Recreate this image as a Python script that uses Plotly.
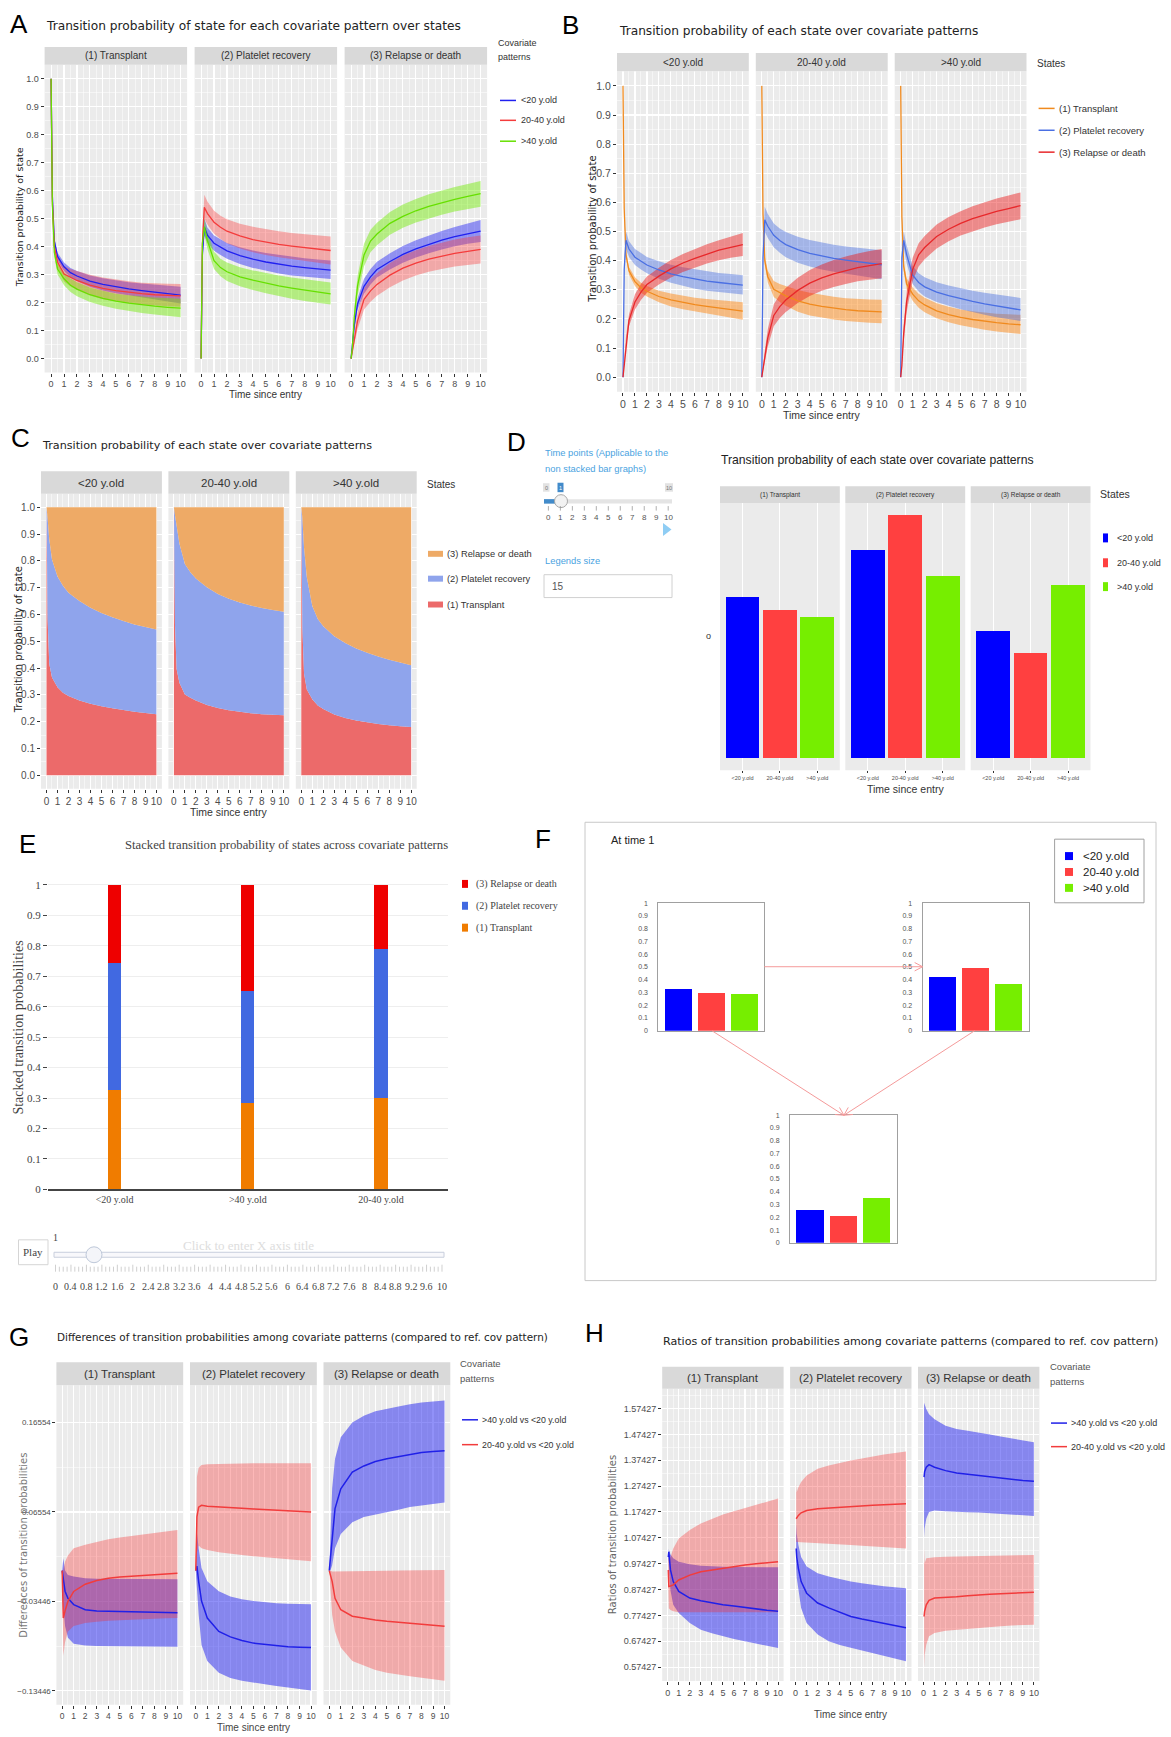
import math
import plotly.graph_objects as go

W, H = 1171, 1737

# ---------------------------------------------------------------- data
GROUPS = ['<20 y.old', '20-40 y.old', '>40 y.old']
STATES = ['(1) Transplant', '(2) Platelet recovery', '(3) Relapse or death']
TIME = [0, 0.1, 0.25, 0.5, 1, 1.5, 2, 3, 4, 5, 6, 7, 8, 9, 10]

# (1) Transplant
TRANS_Y20 = [1.0, 0.58, 0.42, 0.365, 0.328, 0.307, 0.295, 0.277, 0.265, 0.256, 0.249, 0.243, 0.237, 0.232, 0.227]
TRANS_Y20_LO = [1.0, 0.57, 0.41, 0.352, 0.313, 0.29, 0.277, 0.257, 0.243, 0.233, 0.224, 0.217, 0.21, 0.204, 0.197]
TRANS_Y20_HI = [1.0, 0.59, 0.43, 0.378, 0.343, 0.324, 0.313, 0.297, 0.287, 0.279, 0.273, 0.268, 0.264, 0.26, 0.257]
TRANS_Y2040 = [1.0, 0.56, 0.40, 0.345, 0.302, 0.289, 0.279, 0.262, 0.251, 0.243, 0.237, 0.232, 0.228, 0.226, 0.224]
TRANS_Y2040_LO = [1.0, 0.55, 0.385, 0.325, 0.275, 0.258, 0.245, 0.225, 0.212, 0.204, 0.198, 0.193, 0.189, 0.187, 0.185]
TRANS_Y2040_HI = [1.0, 0.57, 0.415, 0.365, 0.33, 0.32, 0.313, 0.299, 0.29, 0.282, 0.276, 0.271, 0.268, 0.267, 0.266]
TRANS_Y40 = [1.0, 0.55, 0.38, 0.32, 0.285, 0.262, 0.248, 0.228, 0.215, 0.205, 0.198, 0.192, 0.187, 0.183, 0.180]
TRANS_Y40_LO = [1.0, 0.54, 0.365, 0.3, 0.262, 0.238, 0.223, 0.202, 0.189, 0.178, 0.17, 0.163, 0.157, 0.152, 0.148]
TRANS_Y40_HI = [1.0, 0.56, 0.395, 0.34, 0.308, 0.286, 0.273, 0.254, 0.242, 0.232, 0.226, 0.221, 0.218, 0.216, 0.214]

# (2) Platelet recovery
PLATE_Y20 = [0.0, 0.37, 0.47, 0.44, 0.412, 0.398, 0.385, 0.368, 0.355, 0.345, 0.337, 0.330, 0.325, 0.320, 0.316]
PLATE_Y20_LO = [0.0, 0.35, 0.44, 0.413, 0.385, 0.37, 0.357, 0.338, 0.324, 0.313, 0.304, 0.297, 0.292, 0.288, 0.284]
PLATE_Y20_HI = [0.0, 0.39, 0.50, 0.467, 0.44, 0.425, 0.413, 0.398, 0.386, 0.377, 0.37, 0.364, 0.358, 0.354, 0.35]
PLATE_Y2040 = [0.0, 0.41, 0.54, 0.518, 0.487, 0.469, 0.455, 0.438, 0.425, 0.416, 0.408, 0.402, 0.396, 0.391, 0.386]
PLATE_Y2040_LO = [0.0, 0.38, 0.50, 0.478, 0.446, 0.427, 0.412, 0.393, 0.38, 0.37, 0.362, 0.355, 0.348, 0.342, 0.336]
PLATE_Y2040_HI = [0.0, 0.44, 0.585, 0.56, 0.528, 0.51, 0.498, 0.482, 0.471, 0.462, 0.455, 0.449, 0.444, 0.44, 0.436]
PLATE_Y40 = [0.0, 0.41, 0.47, 0.42, 0.35, 0.325, 0.31, 0.292, 0.28, 0.269, 0.26, 0.252, 0.245, 0.238, 0.231]
PLATE_Y40_LO = [0.0, 0.39, 0.445, 0.39, 0.32, 0.294, 0.277, 0.258, 0.245, 0.233, 0.223, 0.214, 0.206, 0.199, 0.193]
PLATE_Y40_HI = [0.0, 0.43, 0.50, 0.452, 0.382, 0.357, 0.343, 0.326, 0.315, 0.305, 0.297, 0.29, 0.284, 0.278, 0.272]

# (3) Relapse or death
RELAP_Y20 = [0.0, 0.04, 0.12, 0.195, 0.258, 0.292, 0.318, 0.347, 0.372, 0.392, 0.408, 0.423, 0.436, 0.446, 0.455]
RELAP_Y20_LO = [0.0, 0.03, 0.10, 0.175, 0.232, 0.265, 0.29, 0.318, 0.342, 0.361, 0.376, 0.39, 0.401, 0.41, 0.416]
RELAP_Y20_HI = [0.0, 0.05, 0.14, 0.215, 0.285, 0.32, 0.346, 0.376, 0.402, 0.423, 0.44, 0.456, 0.47, 0.483, 0.495]
RELAP_Y2040 = [0.0, 0.03, 0.07, 0.135, 0.212, 0.242, 0.265, 0.298, 0.323, 0.341, 0.355, 0.366, 0.376, 0.383, 0.390]
RELAP_Y2040_LO = [0.0, 0.02, 0.05, 0.105, 0.175, 0.203, 0.224, 0.255, 0.279, 0.297, 0.31, 0.32, 0.329, 0.335, 0.34]
RELAP_Y2040_HI = [0.0, 0.04, 0.09, 0.165, 0.25, 0.283, 0.306, 0.341, 0.368, 0.387, 0.402, 0.414, 0.425, 0.433, 0.44]
RELAP_Y40 = [0.0, 0.04, 0.15, 0.26, 0.37, 0.42, 0.445, 0.483, 0.508, 0.528, 0.544, 0.557, 0.569, 0.579, 0.589]
RELAP_Y40_LO = [0.0, 0.03, 0.12, 0.225, 0.33, 0.38, 0.405, 0.442, 0.467, 0.486, 0.501, 0.514, 0.525, 0.534, 0.542]
RELAP_Y40_HI = [0.0, 0.05, 0.18, 0.295, 0.41, 0.46, 0.485, 0.524, 0.55, 0.57, 0.587, 0.601, 0.613, 0.624, 0.634]

# probabilities at time 1 (bar charts), order follows GROUPS
AT1_TRANSPLANT = [0.325, 0.299, 0.285]
AT1_PLATELET = [0.419, 0.489, 0.367]
AT1_RELAPSE = [0.256, 0.212, 0.348]
STACK_ORDER = ['<20 y.old', '>40 y.old', '20-40 y.old']

# differences vs the reference pattern (<20 y.old)
DIFF_TIME = [0, 0.1, 0.25, 0.5, 1, 2, 3, 4, 5, 6, 7, 8, 9, 10]
DIFF_T_40 = [0, -0.012, -0.023, -0.031, -0.038, -0.0437, -0.045, -0.0453, -0.0456, -0.046, -0.0463, -0.0466, -0.0468, -0.047]
DIFF_T_40_LO = [0, -0.04, -0.062, -0.075, -0.0818, -0.0837, -0.0843, -0.0845, -0.0847, -0.0848, -0.0849, -0.085, -0.085, -0.085]
DIFF_T_40_HI = [0, 0.0137, 0.0, -0.005, -0.0067, -0.0085, -0.009, -0.0092, -0.0094, -0.0095, -0.0095, -0.0096, -0.0096, -0.0096]
DIFF_T_2040 = [0, -0.053, -0.045, -0.0344, -0.0233, -0.0152, -0.011, -0.0085, -0.007, -0.0062, -0.0055, -0.0048, -0.004, -0.003]
DIFF_T_2040_LO = [0, -0.095, -0.08, -0.068, -0.062, -0.0585, -0.057, -0.056, -0.055, -0.0545, -0.054, -0.0537, -0.0533, -0.053]
DIFF_T_2040_HI = [0, 0.0, 0.01, 0.017, 0.025, 0.029, 0.032, 0.035, 0.037, 0.0385, 0.04, 0.042, 0.0438, 0.0455]
DIFF_P_40 = [0, 0.005, -0.012, -0.034, -0.053, -0.068, -0.074, -0.078, -0.081, -0.0825, -0.084, -0.085, -0.0855, -0.086]
DIFF_P_40_LO = [0, -0.02, -0.049, -0.083, -0.101, -0.114, -0.12, -0.123, -0.125, -0.127, -0.129, -0.131, -0.1325, -0.134]
DIFF_P_40_HI = [0, 0.043, 0.025, 0.003, -0.012, -0.023, -0.029, -0.032, -0.034, -0.0355, -0.0365, -0.037, -0.0373, -0.0375]
DIFF_P_2040 = [0, 0.06, 0.071, 0.073, 0.072, 0.071, 0.0703, 0.0697, 0.069, 0.0683, 0.0676, 0.067, 0.0662, 0.0655]
DIFF_P_2040_LO = [0, 0.02, 0.028, 0.025, 0.023, 0.0205, 0.019, 0.0175, 0.016, 0.0148, 0.0136, 0.0125, 0.0115, 0.0105]
DIFF_P_2040_HI = [0, 0.105, 0.115, 0.118, 0.119, 0.1195, 0.1197, 0.1198, 0.12, 0.12, 0.12, 0.12, 0.12, 0.12]
DIFF_R_40 = [0, 0.015, 0.04, 0.0693, 0.0915, 0.11, 0.117, 0.122, 0.125, 0.1275, 0.13, 0.132, 0.133, 0.134]
DIFF_R_40_LO = [0, 0.0, 0.006, 0.025, 0.041, 0.054, 0.06, 0.063, 0.0655, 0.068, 0.071, 0.073, 0.0745, 0.076]
DIFF_R_40_HI = [0, 0.04, 0.0915, 0.125, 0.149, 0.1655, 0.173, 0.178, 0.181, 0.1835, 0.186, 0.188, 0.189, 0.19]
DIFF_R_2040 = [0, -0.005, -0.012, -0.031, -0.0437, -0.051, -0.0535, -0.0552, -0.0567, -0.058, -0.0585, -0.06, -0.061, -0.0622]
DIFF_R_2040_LO = [0, -0.02, -0.0493, -0.068, -0.086, -0.101, -0.106, -0.111, -0.114, -0.116, -0.118, -0.12, -0.1215, -0.123]
DIFF_R_2040_HI = [0, 0.0, -0.001, -0.001, -0.001, -0.0008, -0.0006, -0.0004, -0.0002, 0.0, 0.0002, 0.0004, 0.0006, 0.0007]
DIFF_TICKS = [-0.13446, -0.03446, 0.06554, 0.16554]

# ratios vs the reference pattern (<20 y.old)
RATIO_TIME = [0.05, 0.1, 0.25, 0.5, 1, 2, 3, 4, 5, 6, 7, 8, 9, 10]
RATIO_T_40 = [1.0, 1.02, 0.95, 0.905, 0.867, 0.841, 0.831, 0.823, 0.815, 0.81, 0.804, 0.799, 0.794, 0.79]
RATIO_T_40_LO = [1.0, 0.99, 0.87, 0.815, 0.783, 0.745, 0.719, 0.705, 0.693, 0.683, 0.674, 0.665, 0.656, 0.648]
RATIO_T_40_HI = [1.0, 1.03, 1.01, 0.995, 0.982, 0.972, 0.966, 0.963, 0.962, 0.961, 0.961, 0.96, 0.96, 0.96]
RATIO_T_2040 = [0.95, 0.886, 0.888, 0.892, 0.911, 0.93, 0.943, 0.95, 0.956, 0.962, 0.969, 0.974, 0.978, 0.982]
RATIO_T_2040_LO = [0.9, 0.802, 0.795, 0.79, 0.786, 0.786, 0.786, 0.786, 0.786, 0.786, 0.786, 0.786, 0.786, 0.786]
RATIO_T_2040_HI = [1.0, 0.99, 1.0, 1.033, 1.072, 1.104, 1.13, 1.148, 1.164, 1.177, 1.19, 1.202, 1.214, 1.226]
RATIO_P_40 = [1.033, 1.0, 0.956, 0.905, 0.86, 0.822, 0.803, 0.786, 0.77, 0.76, 0.751, 0.742, 0.734, 0.726]
RATIO_P_40_LO = [0.96, 0.92, 0.866, 0.8025, 0.745, 0.7, 0.674, 0.66, 0.649, 0.637, 0.627, 0.617, 0.607, 0.597]
RATIO_P_40_HI = [1.129, 1.09, 1.046, 1.0, 0.963, 0.937, 0.925, 0.914, 0.905, 0.898, 0.892, 0.887, 0.883, 0.879]
RATIO_P_2040 = [1.148, 1.152, 1.161, 1.171, 1.18, 1.187, 1.19, 1.193, 1.196, 1.198, 1.2, 1.202, 1.204, 1.206]
RATIO_P_2040_LO = [1.059, 1.058, 1.057, 1.057, 1.056, 1.053, 1.05, 1.048, 1.046, 1.043, 1.04, 1.038, 1.035, 1.033]
RATIO_P_2040_HI = [1.283, 1.25, 1.27, 1.29, 1.315, 1.341, 1.354, 1.364, 1.373, 1.381, 1.389, 1.396, 1.402, 1.408]
RATIO_R_40 = [1.309, 1.33, 1.347, 1.357, 1.347, 1.334, 1.325, 1.319, 1.315, 1.31, 1.305, 1.3, 1.296, 1.293]
RATIO_R_40_LO = [1.074, 1.11, 1.148, 1.174, 1.18, 1.177, 1.174, 1.173, 1.172, 1.17, 1.167, 1.165, 1.162, 1.159]
RATIO_R_40_HI = [1.597, 1.59, 1.572, 1.552, 1.533, 1.508, 1.495, 1.488, 1.482, 1.474, 1.466, 1.458, 1.451, 1.444]
RATIO_R_2040 = [0.77, 0.79, 0.815, 0.832, 0.841, 0.843, 0.846, 0.85, 0.854, 0.856, 0.858, 0.86, 0.862, 0.864]
RATIO_R_2040_LO = [0.574, 0.62, 0.661, 0.693, 0.706, 0.715, 0.719, 0.722, 0.726, 0.729, 0.732, 0.735, 0.737, 0.738]
RATIO_R_2040_HI = [1.033, 0.976, 0.995, 0.997, 0.999, 1.001, 1.002, 1.003, 1.004, 1.005, 1.006, 1.007, 1.008, 1.008]

COMPARISONS = ['>40 y.old vs <20 y.old', '20-40 y.old vs <20 y.old']

# lookup tables built from the arrays above: [state][group] -> (mean, lo, hi)
PROB = [
    [(TRANS_Y20, TRANS_Y20_LO, TRANS_Y20_HI), (TRANS_Y2040, TRANS_Y2040_LO, TRANS_Y2040_HI), (TRANS_Y40, TRANS_Y40_LO, TRANS_Y40_HI)],
    [(PLATE_Y20, PLATE_Y20_LO, PLATE_Y20_HI), (PLATE_Y2040, PLATE_Y2040_LO, PLATE_Y2040_HI), (PLATE_Y40, PLATE_Y40_LO, PLATE_Y40_HI)],
    [(RELAP_Y20, RELAP_Y20_LO, RELAP_Y20_HI), (RELAP_Y2040, RELAP_Y2040_LO, RELAP_Y2040_HI), (RELAP_Y40, RELAP_Y40_LO, RELAP_Y40_HI)],
]
AT1 = [AT1_TRANSPLANT, AT1_PLATELET, AT1_RELAPSE]
DIFFS = [
    [(DIFF_T_40, DIFF_T_40_LO, DIFF_T_40_HI), (DIFF_T_2040, DIFF_T_2040_LO, DIFF_T_2040_HI)],
    [(DIFF_P_40, DIFF_P_40_LO, DIFF_P_40_HI), (DIFF_P_2040, DIFF_P_2040_LO, DIFF_P_2040_HI)],
    [(DIFF_R_40, DIFF_R_40_LO, DIFF_R_40_HI), (DIFF_R_2040, DIFF_R_2040_LO, DIFF_R_2040_HI)],
]
RATIOS = [
    [(RATIO_T_40, RATIO_T_40_LO, RATIO_T_40_HI), (RATIO_T_2040, RATIO_T_2040_LO, RATIO_T_2040_HI)],
    [(RATIO_P_40, RATIO_P_40_LO, RATIO_P_40_HI), (RATIO_P_2040, RATIO_P_2040_LO, RATIO_P_2040_HI)],
    [(RATIO_R_40, RATIO_R_40_LO, RATIO_R_40_HI), (RATIO_R_2040, RATIO_R_2040_LO, RATIO_R_2040_HI)],
]

# ---------------------------------------------------------------- styling
SANS = 'Liberation Sans, Arial, sans-serif'
VERD = 'DejaVu Sans, Verdana, sans-serif'
SERIF = 'Liberation Serif, Times New Roman, serif'
GG_BG = '#EBEBEB'
STRIP_BG = '#D9D9D9'
TICK_C = '#4D4D4D'

GROUP_LINE = ['#2020F0', '#F43C3C', '#66E000']
GROUP_FILL = ['rgba(20,20,245,0.42)', 'rgba(250,60,60,0.38)', 'rgba(110,235,0,0.45)']
STATE_LINE_B = ['#F08A1E', '#4A6FE3', '#E8282B']
STATE_FILL_B = ['rgba(255,127,0,0.45)', 'rgba(65,105,225,0.42)', 'rgba(235,20,20,0.45)']
STATE_AREA_C = ['#EC6A6A', '#8FA4EC', '#EEAA66']
BAR_COLORS = ['#0000FF', '#FF4040', '#76EE00']
STACK_COLORS = ['#F07C00', '#4169E1', '#EE0000']
CMP_LINE = ['#2020E8', '#F23C3C']
CMP_FILL = ['rgba(10,10,240,0.45)', 'rgba(250,40,40,0.33)']

fig = go.Figure()
axes_layout = {}
shapes = []
annots = []
_count = [0]


def fx(p):
    return p / W


def fy(p):
    return 1 - p / H


def add_axes(x0, x1, y_top, y_bot, xa, ya):
    _count[0] += 1
    k = _count[0]
    s = '' if k == 1 else str(k)
    axes_layout['xaxis' + s] = dict(domain=[fx(x0), fx(x1)], anchor='y' + s, fixedrange=True, **xa)
    axes_layout['yaxis' + s] = dict(domain=[fy(y_bot), fy(y_top)], anchor='x' + s, fixedrange=True, **ya)
    return 'x' + s, 'y' + s


def text(x, y, s, size, color='#333333', family=SANS, xanchor='left', yanchor='middle', angle=0):
    annots.append(dict(x=fx(x), y=fy(y), xref='paper', yref='paper', text=s, showarrow=False,
                       font=dict(size=size, color=color, family=family), xanchor=xanchor,
                       yanchor=yanchor, textangle=angle, borderpad=0))


def rect(x0, y0, x1, y1, fill=None, line=None, lw=1, layer='above'):
    shapes.append(dict(type='rect', xref='paper', yref='paper', x0=fx(x0), x1=fx(x1), y0=fy(y1), y1=fy(y0),
                       fillcolor=fill or 'rgba(0,0,0,0)',
                       line=dict(color=line or 'rgba(0,0,0,0)', width=lw if line else 0), layer=layer))


def seg(x0, y0, x1, y1, color, lw=1):
    shapes.append(dict(type='line', xref='paper', yref='paper', x0=fx(x0), y0=fy(y0), x1=fx(x1), y1=fy(y1),
                       line=dict(color=color, width=lw)))


def path(d_pts, fill, line=None, lw=1, closed=True):
    d = 'M ' + ' L '.join(f'{fx(x):.5f},{fy(y):.5f}' for x, y in d_pts) + (' Z' if closed else '')
    shapes.append(dict(type='path', xref='paper', yref='paper', path=d, fillcolor=fill,
                       line=dict(color=line or 'rgba(0,0,0,0)', width=lw if line else 0)))


def circle(cx, cy, r, fill, line, lw=1):
    shapes.append(dict(type='circle', xref='paper', yref='paper', x0=fx(cx - r), x1=fx(cx + r),
                       y0=fy(cy + r), y1=fy(cy - r), fillcolor=fill, line=dict(color=line, width=lw)))


def arrow(x0, y0, x1, y1, color, head=9, ang=28):
    seg(x0, y0, x1, y1, color)
    th = math.atan2(y1 - y0, x1 - x0)
    for sgn in (-1, 1):
        a = th + math.pi + sgn * math.radians(ang)
        seg(x1, y1, x1 + head * math.cos(a), y1 + head * math.sin(a), color)


def gg_time_axis(size, show=True):
    return dict(range=[-0.5, 10.5], tickmode='linear', tick0=0, dtick=1,
                showgrid=True, gridcolor='white', gridwidth=1.1,
                minor=dict(tick0=0, dtick=0.5, showgrid=True, gridcolor='white', gridwidth=0.5),
                ticks='outside', ticklen=3, tickwidth=1, tickcolor='#333333', zeroline=False, showline=False,
                showticklabels=show, tickfont=dict(size=size, color=TICK_C, family=SANS))


def gg_value_axis(rng, tick0, dtick, fmt, size, show=True):
    return dict(range=rng, tickmode='linear', tick0=tick0, dtick=dtick, tickformat=fmt,
                showgrid=True, gridcolor='white', gridwidth=1.1,
                minor=dict(tick0=tick0, dtick=dtick / 2, showgrid=True, gridcolor='white', gridwidth=0.5),
                ticks='outside' if show else '', ticklen=3, tickwidth=1, tickcolor='#333333',
                zeroline=False, showline=False,
                showticklabels=show, tickfont=dict(size=size, color=TICK_C, family=SANS))


def gg_panel(xr, strip, plot, label, strip_size, xa, ya):
    xid, yid = add_axes(xr[0], xr[1], plot[0], plot[1], xa, ya)
    shapes.append(dict(type='rect', xref=xid + ' domain', yref=yid + ' domain', x0=0, x1=1, y0=0, y1=1,
                       fillcolor=GG_BG, line=dict(width=0), layer='below'))
    rect(xr[0], strip[0], xr[1], strip[1], fill=STRIP_BG)
    text((xr[0] + xr[1]) / 2, (strip[0] + strip[1]) / 2, label, strip_size, color='#333333', xanchor='center')
    return xid, yid


def ribbon(xid, yid, t, lo, hi, fill):
    fig.add_trace(go.Scatter(x=list(t) + list(t)[::-1], y=list(hi) + list(lo)[::-1], fill='toself',
                             fillcolor=fill, line=dict(width=0), mode='lines', hoverinfo='skip',
                             showlegend=False, xaxis=xid, yaxis=yid))


def mean_line(xid, yid, t, m, color, lw=1.3):
    fig.add_trace(go.Scatter(x=t, y=m, mode='lines', line=dict(color=color, width=lw),
                             showlegend=False, xaxis=xid, yaxis=yid))


def letter(x, y, s):
    text(x, y, s, 26, color='#000000', family=SANS, xanchor='center')


def line_legend(x, ys, colors, labels, size, label_x, family=SANS, lw=1.5, length=16):
    for y, c, lab in zip(ys, colors, labels):
        seg(x, y, x + length, y, c, lw)
        text(label_x, y, lab, size, color='#333333', family=family)


def box_legend(x, ys, w, h, colors, labels, size, label_x, family=SANS, color='#333333'):
    for y, c, lab in zip(ys, colors, labels):
        rect(x, y - h / 2, x + w, y + h / 2, fill=c)
        text(label_x, y, lab, size, color=color, family=family)


# ---------------------------------------------------------------- A
letter(19, 20, 'A')
text(44.6, 21.7, 'Transition probability of state for each covariate pattern over states', 12.2, '#222222', VERD)
A_X = [(44.6, 187.1), (194.6, 337.1), (344.6, 487.1)]
for si in range(3):
    xid, yid = gg_panel(A_X[si], (43.3, 61), (61, 370.7), STATES[si], 10,
                        gg_time_axis(9), gg_value_axis([-0.05, 1.05], 0, 0.1, '.1f', 9, show=(si == 0)))
    for gi in range(3):
        m, lo, hi = PROB[si][gi]
        ribbon(xid, yid, TIME, lo, hi, GROUP_FILL[gi])
    for gi in range(3):
        mean_line(xid, yid, TIME, PROB[si][gi][0], GROUP_LINE[gi])
text(19.6, 215, 'Transition probability of state', 9.5, '#222222', VERD, xanchor='center', angle=-90)
text(265.9, 393, 'Time since entry', 10, '#333333', SANS, xanchor='center')
text(497, 39, 'Covariate', 9, '#333333')
text(497, 53, 'patterns', 9, '#333333')
line_legend(500, [97, 117, 138], GROUP_LINE, GROUPS, 9, 520)

# ---------------------------------------------------------------- B
letter(570, 21, 'B')
text(617.7, 26.7, 'Transition probability of each state over covariate patterns', 12.2, '#222222', VERD)
B_X = [(617, 748.8), (755.8, 887.7), (894.7, 1026.5)]
for gi in range(3):
    xid, yid = gg_panel(B_X[gi], (49.3, 67.7), (67.7, 390), GROUPS[gi], 10,
                        gg_time_axis(10.5), gg_value_axis([-0.05, 1.05], 0, 0.1, '.1f', 10.5, show=(gi == 0)))
    for si in range(3):
        m, lo, hi = PROB[si][gi]
        ribbon(xid, yid, TIME, lo, hi, STATE_FILL_B[si])
    for si in range(3):
        mean_line(xid, yid, TIME, PROB[si][gi][0], STATE_LINE_B[si])
text(593, 227, 'Transition probability of state', 10, '#222222', VERD, xanchor='center', angle=-90)
text(821.8, 413, 'Time since entry', 10.5, '#333333', SANS, xanchor='center')
text(1036, 60, 'States', 10, '#333333')
line_legend(1038.6, [105, 127, 149], STATE_LINE_B, STATES, 9.5, 1058)

# ---------------------------------------------------------------- C
letter(20, 437, 'C')
text(41, 444, 'Transition probability of each state over covariate patterns', 11.2, '#222222', VERD)
C_X = [(41, 161.9), (168.4, 289.3), (295.8, 416.7)]
for gi in range(3):
    xid, yid = gg_panel(C_X[gi], (470, 492.7), (492.7, 789.3), GROUPS[gi], 11.5,
                        gg_time_axis(10), gg_value_axis([-0.05, 1.05], 0, 0.1, '.1f', 10, show=(gi == 0)))
    for si in range(3):
        fig.add_trace(go.Scatter(x=TIME, y=PROB[si][gi][0], stackgroup='stack%d' % gi,
                                 groupnorm='fraction' if si == 0 else None, mode='none',
                                 fillcolor=STATE_AREA_C[si], showlegend=False, xaxis=xid, yaxis=yid))
text(18, 640, 'Transition probability of state', 10, '#222222', VERD, xanchor='center', angle=-90)
text(228.9, 813, 'Time since entry', 10.5, '#333333', SANS, xanchor='center')
text(426, 483, 'States', 10, '#333333')
box_legend(428, [553, 578, 604], 15, 6, STATE_AREA_C[::-1], STATES[::-1], 9.3, 446)

# ---------------------------------------------------------------- D
letter(516, 441, 'D')
BLUE_UI = '#4AA3DF'
text(544, 451, 'Time points (Applicable to the', 9.4, BLUE_UI, SANS)
text(544, 467, 'non stacked bar graphs)', 9.4, BLUE_UI, SANS)
rect(543, 482, 549.5, 490.5, fill='#E2E2E2')
text(546.2, 486.3, '0', 5.5, '#777777', SANS, xanchor='center')
rect(665, 482, 673, 490.5, fill='#E2E2E2')
text(669, 486.3, '10', 5.5, '#777777', SANS, xanchor='center')
rect(557.5, 481.5, 563.5, 491, fill='#428BCA')
text(560.5, 486.3, '1', 5.5, '#FFFFFF', SANS, xanchor='center')
rect(544, 498, 672, 502.5, fill='#E4E4E4')
rect(544, 498, 561, 502.5, fill='#428BCA')
circle(561, 500, 6.5, '#F2F2F2', '#A8A8A8')
for v in range(11):
    xv = 548.4 + v * 11.98
    seg(xv, 505, xv, 509.5, '#999999', 0.8)
    text(xv, 516, str(v), 8, '#555555', SANS, xanchor='center')
path([(663, 522), (671.5, 528.5), (663, 535)], '#8FCDF4')
text(544, 560, 'Legends size', 9.4, BLUE_UI, SANS)
rect(544, 574, 672, 597, fill='#FFFFFF', line='#D0D0D0')
text(551, 586, '15', 10, '#555555', SANS)

text(720, 459, 'Transition probability of each state over covariate patterns', 12.2, '#222222', SANS)
D_X = [(720, 839.8), (845.3, 965.2), (970.7, 1090.5)]
for si in range(3):
    xa = dict(type='category', categoryorder='array', categoryarray=GROUPS, range=[-0.6, 2.6],
              showgrid=True, gridcolor='white', gridwidth=1, ticks='outside', ticklen=2,
              tickcolor='#333333', zeroline=False, tickfont=dict(size=5.5, color=TICK_C, family=SANS))
    ya = dict(range=[-0.0245, 0.5135], showticklabels=False, showgrid=False, ticks='', zeroline=False)
    xid, yid = gg_panel(D_X[si], (485, 502), (502, 770.7), STATES[si], 6.5, xa, ya)
    fig.add_trace(go.Bar(x=GROUPS, y=AT1[si], marker=dict(color=BAR_COLORS, line=dict(width=0)), width=0.9,
                         showlegend=False, xaxis=xid, yaxis=yid))
text(708, 636, 'o', 9, '#333333', SANS, xanchor='center')
text(905.2, 790, 'Time since entry', 10.5, '#333333', SANS, xanchor='center')
text(1099, 493, 'States', 10.5, '#333333')
box_legend(1103, [537, 562, 586], 5, 9, BAR_COLORS, GROUPS, 9, 1116)

# ---------------------------------------------------------------- E
letter(27, 845, 'E')
text(286, 846, 'Stacked transition probability of states across covariate patterns', 12.7, '#444444', SERIF,
     xanchor='center')
xid, yid = add_axes(48, 447.6, 870.7, 1192.3,
                    dict(type='category', categoryorder='array', categoryarray=STACK_ORDER, range=[-0.5, 2.5],
                         showline=True, linecolor='#444444', linewidth=1.5, ticks='', showgrid=False,
                         zeroline=False, tickfont=dict(size=10, color='#444444', family=SERIF)),
                    dict(range=[0, 1.05], tickmode='linear', tick0=0, dtick=0.1, showgrid=True,
                         gridcolor='#EEEEEE', gridwidth=1, ticks='outside', ticklen=4, tickcolor='#444444',
                         zeroline=False, showline=False, tickfont=dict(size=11, color='#444444', family=SERIF)))
for si in range(3):
    fig.add_trace(go.Bar(x=GROUPS, y=AT1[si], marker=dict(color=STACK_COLORS[si], line=dict(width=0)),
                         width=0.1, showlegend=False, xaxis=xid, yaxis=yid))
text(18.5, 1030, 'Stacked transition probabilities', 14, '#444444', SERIF, xanchor='center', angle=-90)
box_legend(462, [885, 907, 929], 6, 8, STACK_COLORS[::-1], STATES[::-1], 10, 475, family=SERIF,
           color='#444444')

# animation-style time slider
rect(18.5, 1243, 48, 1268, fill='#FFFFFF', line='#D5D5D5')
text(33.2, 1255.5, 'Play', 11, '#444444', SERIF, xanchor='center')
text(52, 1241, '1', 10, '#444444', SERIF)
text(248, 1249, 'Click to enter X axis title', 13, '#DDDDDD', SERIF, xanchor='center')
rect(54, 1255.5, 444, 1260.5, fill='#F8F8FB', line='#C8CEDC')
circle(94, 1258, 8, '#F4F5F9', '#BEC8D9')
for i in range(101):
    xv = 55.5 + i * 0.1 * 38.65
    top = 1268 if i % 4 == 0 else 1270
    seg(xv, top, xv, 1275, '#BBBBBB', 0.7)
for i in range(26):
    v = round(i * 0.4, 1)
    text(55.5 + v * 38.65, 1290, f'{v:g}', 10, '#444444', SERIF, xanchor='center')

# ---------------------------------------------------------------- F
letter(543, 840, 'F')
rect(585, 823, 1156, 1284, line='#C8C8C8', lw=1)
text(610, 841, 'At time 1', 11, '#222222', SANS)
rect(1054.6, 840, 1144, 904, fill='#FFFFFF', line='#A0A0A0')
box_legend(1065, [857, 873, 889], 8, 8, BAR_COLORS, GROUPS, 11.5, 1082, color='#222222')
F_BOXES = [(658.4, 764.3, 904.3, 1032.7), (922.6, 1028.5, 904.3, 1032.7), (790, 896.6, 1117.7, 1246)]
for si in range(3):
    x0, x1, y0, y1 = F_BOXES[si]
    xid, yid = add_axes(x0, x1, y0, y1,
                        dict(type='category', categoryorder='array', categoryarray=GROUPS, range=[-0.6, 2.6],
                             showticklabels=False, showgrid=False, ticks='', showline=True, mirror=True,
                             linecolor='#A0A0A0', linewidth=1, zeroline=False),
                        dict(range=[0, 1], tickmode='linear', tick0=0, dtick=0.1, showgrid=False, ticks='',
                             showline=True, mirror=True, linecolor='#A0A0A0', linewidth=1, zeroline=False,
                             ticklabelstandoff=8, tickfont=dict(size=7, color='#555555', family=SANS)))
    fig.add_trace(go.Bar(x=GROUPS, y=AT1[si], marker=dict(color=BAR_COLORS, line=dict(width=0)), width=0.82,
                         showlegend=False, xaxis=xid, yaxis=yid))
ARROW_C = '#F59A9A'
arrow(764.3, 968.3, 922.6, 968.3, ARROW_C)
arrow(712, 1032.7, 843.9, 1117.7, ARROW_C)
arrow(974.6, 1032.7, 843.9, 1117.7, ARROW_C)

# ---------------------------------------------------------------- G
letter(19, 1341, 'G')
text(56.4, 1340.7, 'Differences of transition probabilities among covariate patterns (compared to ref. cov pattern)',
     10.4, '#222222', VERD)
G_X = [(56.4, 183.2), (190, 316.8), (323.5, 450.3)]
for si in range(3):
    xid, yid = gg_panel(G_X[si], (1366, 1389.3), (1389.3, 1710.7), STATES[si], 11.5,
                        gg_time_axis(8.5), gg_value_axis([-0.1500, 0.2071], DIFF_TICKS[0], 0.1, '.5f', 8,
                                                         show=(si == 0)))
    for ci in range(2):
        m, lo, hi = DIFFS[si][ci]
        ribbon(xid, yid, DIFF_TIME, lo, hi, CMP_FILL[ci])
    for ci in range(2):
        mean_line(xid, yid, DIFF_TIME, DIFFS[si][ci][0], CMP_LINE[ci], 1.5)
text(22.6, 1550, 'Differences of transition probabilities', 10, '#777777', VERD, xanchor='center', angle=-90)
text(253.4, 1733, 'Time since entry', 10, '#444444', SANS, xanchor='center')
text(459, 1367, 'Covariate', 9.5, '#555555')
text(459, 1382, 'patterns', 9.5, '#555555')
line_legend(462, [1424, 1449], CMP_LINE, COMPARISONS, 8.8, 481)

# ---------------------------------------------------------------- H
letter(594, 1337, 'H')
text(662, 1345.7, 'Ratios of transition probabilities among covariate patterns (compared to ref. cov pattern)',
     11.1, '#222222', VERD)
H_X = [(662.2, 783.6), (790.1, 911.5), (918, 1039.4)]
for si in range(3):
    xid, yid = gg_panel(H_X[si], (1370.7, 1392.7), (1392.7, 1686.7), STATES[si], 11.5,
                        gg_time_axis(9), gg_value_axis([0.5204, 1.651], 0.57427, 0.1, '.5f', 9,
                                                       show=(si == 0)))
    for ci in range(2):
        m, lo, hi = RATIOS[si][ci]
        ribbon(xid, yid, RATIO_TIME, lo, hi, CMP_FILL[ci])
    for ci in range(2):
        mean_line(xid, yid, RATIO_TIME, RATIOS[si][ci][0], CMP_LINE[ci], 1.5)
text(612, 1540, 'Ratios of transition probabilities', 10, '#666666', VERD, xanchor='center', angle=-90)
text(850.8, 1720, 'Time since entry', 10, '#444444', SANS, xanchor='center')
text(1048.7, 1370, 'Covariate', 9.5, '#555555')
text(1048.7, 1385, 'patterns', 9.5, '#555555')
line_legend(1051, [1427.3, 1451], CMP_LINE, COMPARISONS, 9, 1070)

# ---------------------------------------------------------------- layout
fig.update_layout(
    width=W, height=H, autosize=False,
    margin=dict(l=0, r=0, t=0, b=0, pad=0),
    paper_bgcolor='#FFFFFF', plot_bgcolor='rgba(0,0,0,0)',
    barmode='stack', showlegend=False,
    font=dict(family=SANS, size=10, color='#333333'),
    shapes=shapes, annotations=annots,
    **axes_layout,
)
fig.write_html('out.html', config={'displayModeBar': False, 'staticPlot': True})
